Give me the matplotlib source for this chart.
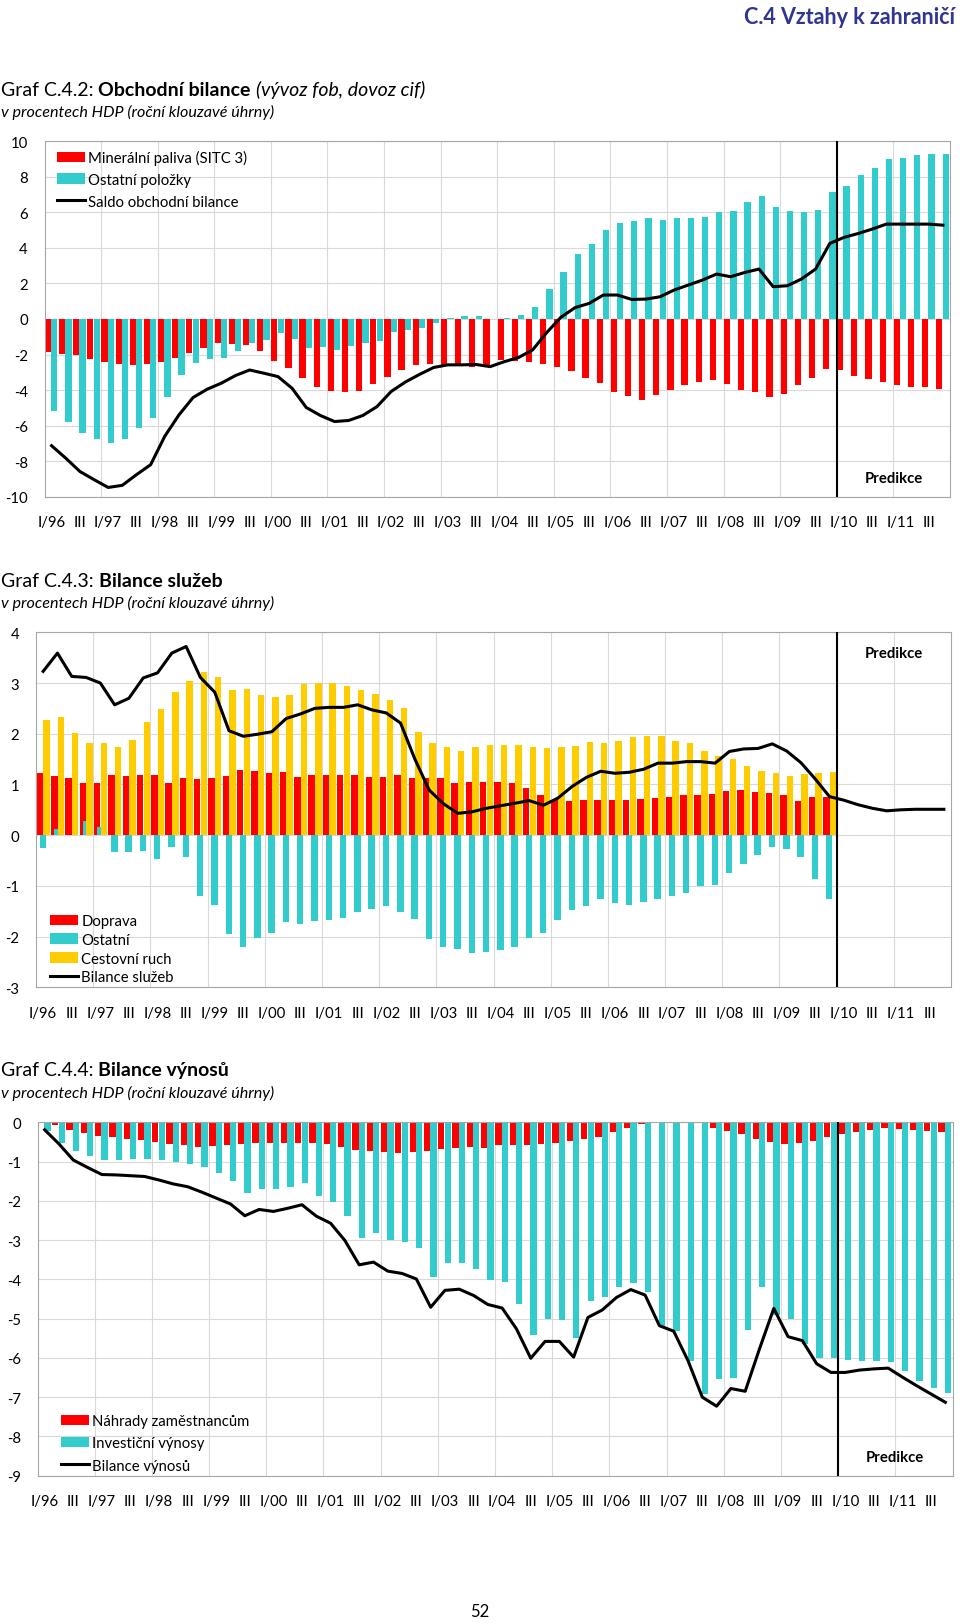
import numpy as np
import matplotlib
matplotlib.use('Agg')
import matplotlib.pyplot as plt
from matplotlib.patches import Patch
from matplotlib.lines import Line2D

plt.rcParams['font.family'] = ['Lato', 'DejaVu Sans']
plt.rcParams['axes.unicode_minus'] = False

RED = '#FF0000'
CYAN = '#33CCCC'
YELLOW = '#FFCC00'
GRID = '#D9D9D9'

# quarters I/96 .. IV/11
years = list(range(96, 100)) + list(range(0, 12))
tick_labels = []
for y in years:
    tick_labels += ['I/%02d' % y, 'III']

# Graf C.4.2 - obchodni bilance
trade_fuel = [-1.84, -1.99, -2.02, -2.25, -2.40, -2.53, -2.58, -2.53, -2.40, -2.17, -1.89, -1.61,
              -1.37, -1.39, -1.46, -1.80, -2.36, -2.73, -3.33, -3.80, -4.03, -4.12, -4.04, -3.67,
              -3.24, -2.87, -2.60, -2.52, -2.58, -2.60, -2.71, -2.68, -2.30, -2.34, -2.43, -2.55,
              -2.72, -2.94, -3.30, -3.61, -4.08, -4.36, -4.55, -4.27, -3.99, -3.71, -3.52, -3.46,
              -3.67, -3.99, -4.08, -4.40, -4.21, -3.71, -3.30, -2.81, -2.87, -3.18, -3.37, -3.56,
              -3.71, -3.80, -3.84, -3.95]
trade_other = [-5.20, -5.77, -6.42, -6.74, -6.98, -6.74, -6.14, -5.58, -4.40, -3.15, -2.45, -2.27,
               -2.21, -1.78, -1.33, -1.18, -0.81, -1.14, -1.61, -1.55, -1.72, -1.50, -1.33, -1.22,
               -0.75, -0.64, -0.49, -0.20, 0.04, 0.15, 0.15, 0.0, 0.04, 0.22, 0.69, 1.67,
               2.62, 3.65, 4.21, 5.00, 5.41, 5.52, 5.69, 5.56, 5.69, 5.69, 5.75, 6.03,
               6.09, 6.59, 6.93, 6.31, 6.09, 6.03, 6.16, 7.12, 7.49, 8.09, 8.52, 8.99,
               9.08, 9.21, 9.27, 9.30]
trade_balance = [-7.13, -7.83, -8.58, -9.04, -9.48, -9.36, -8.76, -8.20, -6.60, -5.40, -4.42, -3.95,
                 -3.61, -3.18, -2.87, -3.05, -3.24, -3.90, -4.98, -5.43, -5.77, -5.71, -5.43, -4.93,
                 -4.08, -3.55, -3.12, -2.73, -2.58, -2.58, -2.56, -2.68, -2.40, -2.17, -1.74, -0.76,
                 0.10, 0.64, 0.88, 1.35, 1.35, 1.10, 1.12, 1.25, 1.63, 1.91, 2.19, 2.53,
                 2.38, 2.62, 2.81, 1.82, 1.87, 2.25, 2.81, 4.25, 4.59, 4.81, 5.06, 5.34,
                 5.34, 5.34, 5.34, 5.28]

# Graf C.4.3 - bilance sluzeb (sloupce jen do IV/09)
serv_transport = [1.22, 1.17, 1.13, 1.03, 1.02, 1.19, 1.17, 1.19, 1.19, 1.02, 1.13, 1.11,
                  1.13, 1.17, 1.28, 1.26, 1.23, 1.25, 1.15, 1.19, 1.19, 1.19, 1.19, 1.15,
                  1.15, 1.19, 1.13, 1.13, 1.13, 1.03, 1.05, 1.05, 1.05, 1.03, 0.93, 0.79,
                  0.69, 0.67, 0.69, 0.69, 0.69, 0.69, 0.71, 0.73, 0.76, 0.79, 0.79, 0.82,
                  0.87, 0.89, 0.86, 0.84, 0.79, 0.67, 0.76, 0.76]
serv_other = [-0.26, 0.12, 0.0, 0.28, 0.17, -0.34, -0.34, -0.32, -0.47, -0.24, -0.44, -1.20,
              -1.38, -1.95, -2.21, -2.03, -1.92, -1.72, -1.76, -1.70, -1.68, -1.63, -1.51, -1.46,
              -1.39, -1.51, -1.66, -2.04, -2.21, -2.25, -2.32, -2.30, -2.27, -2.20, -2.02, -1.93,
              -1.68, -1.47, -1.39, -1.25, -1.34, -1.38, -1.32, -1.25, -1.20, -1.15, -1.01, -0.98,
              -0.74, -0.56, -0.39, -0.24, -0.28, -0.44, -0.86, -1.25]
serv_tourism = [2.28, 2.33, 2.01, 1.82, 1.82, 1.73, 1.87, 2.23, 2.49, 2.83, 3.03, 3.21,
                3.11, 2.87, 2.89, 2.76, 2.73, 2.76, 2.98, 3.01, 3.01, 2.95, 2.87, 2.79,
                2.66, 2.51, 2.03, 1.81, 1.73, 1.66, 1.73, 1.78, 1.78, 1.78, 1.74, 1.72,
                1.74, 1.76, 1.83, 1.82, 1.86, 1.93, 1.95, 1.95, 1.86, 1.81, 1.66, 1.57,
                1.50, 1.37, 1.27, 1.22, 1.17, 1.20, 1.22, 1.25]
serv_balance = [3.23, 3.59, 3.13, 3.11, 3.00, 2.57, 2.70, 3.10, 3.20, 3.59, 3.72, 3.11,
                2.82, 2.06, 1.95, 1.99, 2.04, 2.30, 2.39, 2.50, 2.52, 2.52, 2.57, 2.47,
                2.41, 2.21, 1.50, 0.89, 0.62, 0.43, 0.46, 0.53, 0.58, 0.63, 0.68, 0.59,
                0.73, 0.96, 1.14, 1.26, 1.22, 1.24, 1.30, 1.42, 1.42, 1.45, 1.45, 1.42,
                1.65, 1.70, 1.71, 1.80, 1.66, 1.43, 1.11, 0.76, 0.69, 0.60, 0.53, 0.48,
                0.50, 0.51, 0.51, 0.51]

# Graf C.4.4 - bilance vynosu
inc_comp = [-0.02, -0.08, -0.19, -0.28, -0.36, -0.38, -0.43, -0.46, -0.51, -0.55, -0.59, -0.64,
            -0.61, -0.59, -0.55, -0.53, -0.53, -0.53, -0.53, -0.53, -0.56, -0.64, -0.70, -0.73,
            -0.76, -0.78, -0.75, -0.73, -0.68, -0.65, -0.64, -0.65, -0.59, -0.59, -0.57, -0.55,
            -0.52, -0.47, -0.42, -0.37, -0.24, -0.14, -0.04, -0.02, -0.01, -0.02, -0.03, -0.14,
            -0.21, -0.31, -0.42, -0.49, -0.55, -0.53, -0.47, -0.37, -0.30, -0.24, -0.19, -0.14,
            -0.17, -0.19, -0.21, -0.24]
inc_invest = [-0.21, -0.53, -0.73, -0.85, -0.97, -0.95, -0.93, -0.93, -0.96, -1.00, -1.05, -1.13,
              -1.30, -1.49, -1.80, -1.71, -1.71, -1.66, -1.54, -1.87, -2.02, -2.38, -2.95, -2.82,
              -3.00, -3.06, -3.21, -3.95, -3.59, -3.59, -3.74, -4.01, -4.07, -4.64, -5.42, -5.00,
              -5.03, -5.49, -4.54, -4.44, -4.20, -4.10, -4.33, -5.20, -5.31, -6.07, -6.92, -6.54,
              -6.52, -5.28, -4.20, -4.90, -5.01, -5.65, -6.01, -6.01, -6.05, -6.09, -6.09, -6.11,
              -6.34, -6.58, -6.77, -6.90]
inc_balance = [-0.19, -0.55, -0.96, -1.15, -1.33, -1.34, -1.36, -1.38, -1.47, -1.57, -1.64, -1.78,
               -1.93, -2.08, -2.38, -2.22, -2.27, -2.19, -2.10, -2.39, -2.57, -3.01, -3.63, -3.56,
               -3.79, -3.85, -3.99, -4.71, -4.28, -4.25, -4.41, -4.64, -4.73, -5.26, -6.01, -5.58,
               -5.58, -5.98, -4.97, -4.78, -4.46, -4.26, -4.40, -5.18, -5.32, -6.07, -7.00, -7.23,
               -6.78, -6.85, -5.77, -4.74, -5.46, -5.56, -6.15, -6.37, -6.37, -6.31, -6.28, -6.26,
               -6.49, -6.71, -6.92, -7.13]

W, H = 960, 1624
FS = 10.7
fig = plt.figure(figsize=(9.6, 16.24), dpi=100)
renderer = fig.canvas.get_renderer()


def px_axes(left, top, right, bottom):
    return fig.add_axes([left / W, 1 - bottom / H, (right - left) / W, (bottom - top) / H])


def style_axes(ax, ymin, ymax, step, pred_y):
    ax.set_xlim(-0.5, 63.5)
    ax.set_ylim(ymin, ymax)
    ticks = np.arange(ymin, ymax + step / 2, step)
    ax.set_yticks(ticks)
    ax.set_yticklabels([str(int(t)) for t in ticks])
    ax.set_xticks(np.arange(0, 64, 2))
    ax.set_xticklabels(tick_labels)
    ax.set_xticks(np.arange(3.5, 63, 4), minor=True)
    ax.tick_params(which='both', length=0)
    ax.tick_params(axis='x', pad=13.5, labelsize=FS)
    ax.tick_params(axis='y', pad=12, labelsize=FS)
    ax.grid(axis='y', which='major', color=GRID, lw=0.8)
    ax.grid(axis='x', which='minor', color=GRID, lw=0.8)
    ax.set_axisbelow(True)
    for s in ax.spines.values():
        s.set_color('#A6A6A6')
        s.set_linewidth(0.8)
    # hranice predikce
    ax.axvline(55.5, color='black', lw=1.5, zorder=4)
    ax.text(59.5, pred_y, 'Predikce', ha='center', va='center', fontsize=FS, fontweight='bold')


def mixed_title(y_px, parts, size):
    x = 1
    for txt, weight, style in parts:
        t = fig.text(x / W, 1 - y_px / H, txt, fontsize=size, fontweight=weight,
                     fontstyle=style, ha='left', va='baseline')
        x += t.get_window_extent(renderer=renderer).width + 5


def legend(ax, handles, labels, x_px, y_px, spacing):
    ax.legend(handles, labels, loc='upper left', bbox_to_anchor=(x_px / W, 1 - y_px / H),
              bbox_transform=fig.transFigure, frameon=False, borderpad=0, borderaxespad=0,
              handlelength=1.9, handleheight=0.7, handletextpad=0.2, labelspacing=spacing,
              fontsize=FS)


x = np.arange(64)

# header
fig.text(955 / W, 1 - 18 / H, 'C.4 Vztahy k zahraničí', ha='right', va='center',
         fontsize=15.5, fontweight='bold', color='#2F3590')

# --- Graf C.4.2
mixed_title(96, [('Graf C.4.2:', 'normal', 'normal'), ('Obchodní bilance', 'bold', 'normal'),
                 ('(vývoz fob, dovoz cif)', 'normal', 'italic')], 14)
fig.text(1 / W, 1 - 112 / H, 'v procentech HDP (roční klouzavé úhrny)', fontsize=11.6,
         fontstyle='italic', ha='left', va='center')
ax1 = px_axes(44.5, 142.3, 950, 497.7)
ax1.bar(x - 0.26, trade_fuel, width=0.44, color=RED, zorder=2)
ax1.bar(x + 0.19, trade_other, width=0.44, color=CYAN, zorder=2)
ax1.plot(x, trade_balance, color='black', lw=2.2, zorder=3)
style_axes(ax1, -10, 10, 2, -8.95)
legend(ax1, [Patch(facecolor=RED), Patch(facecolor=CYAN), Line2D([0], [0], color='black', lw=2.2)],
       ['Minerální paliva (SITC 3)', 'Ostatní položky', 'Saldo obchodní bilance'], 57, 151, 0.52)

# --- Graf C.4.3
mixed_title(587, [('Graf C.4.3:', 'normal', 'normal'), ('Bilance služeb', 'bold', 'normal')], 14)
fig.text(1 / W, 1 - 603 / H, 'v procentech HDP (roční klouzavé úhrny)', fontsize=11.6,
         fontstyle='italic', ha='left', va='center')
ax2 = px_axes(36, 633.3, 951, 988.3)
xs = x[:len(serv_transport)]
ax2.bar(xs - 0.22, serv_transport, width=0.45, color=RED, zorder=2)
ax2.bar(xs - 0.02, serv_other, width=0.45, color=CYAN, zorder=2)
ax2.bar(xs + 0.245, serv_tourism, width=0.45, color=YELLOW, zorder=2)
ax2.plot(x, serv_balance, color='black', lw=2.2, zorder=3)
style_axes(ax2, -3, 4, 1, 3.59)
legend(ax2, [Patch(facecolor=RED), Patch(facecolor=CYAN), Patch(facecolor=YELLOW),
             Line2D([0], [0], color='black', lw=2.2)],
       ['Doprava', 'Ostatní', 'Cestovní ruch', 'Bilance služeb'], 50, 915, 0.32)

# --- Graf C.4.4
mixed_title(1076, [('Graf C.4.4:', 'normal', 'normal'), ('Bilance výnosů', 'bold', 'normal')], 14)
fig.text(1 / W, 1 - 1093 / H, 'v procentech HDP (roční klouzavé úhrny)', fontsize=11.6,
         fontstyle='italic', ha='left', va='center')
ax3 = px_axes(37.5, 1123.3, 952.5, 1476.7)
ax3.bar(x - 0.26, inc_comp, width=0.44, color=RED, zorder=2)
ax3.bar(x + 0.19, inc_invest, width=0.44, color=CYAN, zorder=2)
ax3.plot(x, inc_balance, color='black', lw=2.2, zorder=3)
style_axes(ax3, -9, 0, 1, -8.52)
legend(ax3, [Patch(facecolor=RED), Patch(facecolor=CYAN), Line2D([0], [0], color='black', lw=2.2)],
       ['Náhrady zaměstnancům', 'Investiční výnosy', 'Bilance výnosů'], 61, 1415, 0.56)

fig.text(0.5, 1 - 1612 / H, '52', ha='center', va='center', fontsize=12)

fig.savefig('out.png', dpi=100)
